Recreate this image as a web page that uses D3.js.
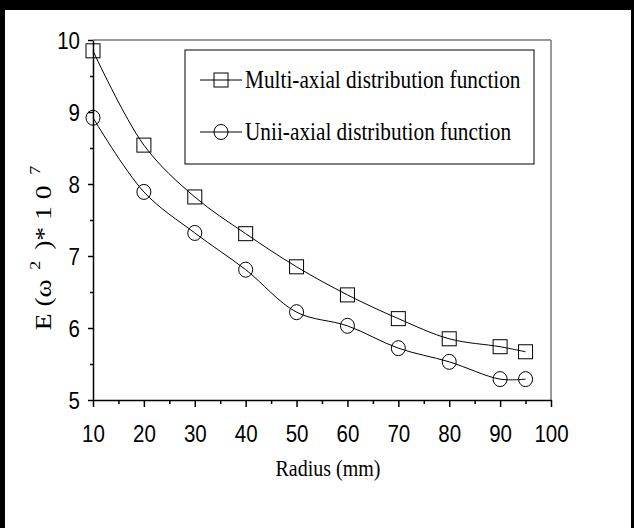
<!DOCTYPE html>
<html><head><meta charset="utf-8">
<script src="https://cdn.jsdelivr.net/npm/d3@7"></script>
<style>body{margin:0;background:#fff}svg{display:block}</style>
</head><body>
<script>
const radius = [10,20,30,40,50,60,70,80,90,95];
const multiAxial = [9.85,8.54,7.82,7.31,6.85,6.46,6.13,5.85,5.74,5.67];
const uniAxial = [8.92,7.89,7.32,6.81,6.22,6.03,5.72,5.53,5.29,5.29];
const seriesNames = ["Multi-axial distribution function","Unii-axial distribution function"];
const xTicks = [10,20,30,40,50,60,70,80,90,100];
const yTicks = [5,6,7,8,9,10];

const W=634,H=528;
const svg=d3.select("body").append("svg").attr("width",W).attr("height",H);
svg.append("rect").attr("width",W).attr("height",H).attr("fill","#000");
svg.append("rect").attr("x",5).attr("y",10).attr("width",626).attr("height",518).attr("fill","#fff");

const x=d3.scaleLinear().domain([10,100]).range([93,551]);
const y=d3.scaleLinear().domain([5,10]).range([400,40]);

// frame top/right gray
svg.append("line").attr("x1",93).attr("x2",551).attr("y1",40).attr("y2",40).attr("stroke","#777").attr("stroke-width",1.5);
svg.append("line").attr("x1",551).attr("x2",551).attr("y1",40).attr("y2",400).attr("stroke","#777").attr("stroke-width",1.5);

const font="Liberation Sans, Arial, sans-serif";
const serif="Liberation Serif, Times New Roman, serif";

// x axis
const gx=svg.append("g").attr("transform","translate(0,400)");
gx.call(d3.axisBottom(x).tickValues(xTicks).tickSize(7).tickFormat(d3.format("d")).tickSizeOuter(0));
gx.append("g").call(d3.axisBottom(x).tickValues(d3.range(15,100,10)).tickSize(4).tickFormat("")).select(".domain").remove();
gx.selectAll("text").attr("font-family",font).attr("font-size",20.5).attr("fill","#000")
  .attr("y",null).attr("dy",null).attr("transform","translate(0,42) scale(1,1.17)");
gx.selectAll("line,path").attr("stroke","#000").attr("stroke-width",1.5);

// y axis
const gy=svg.append("g").attr("transform","translate(93,0)");
gy.call(d3.axisLeft(y).tickValues(yTicks).tickSize(5).tickFormat(d3.format("d")).tickSizeOuter(0));
gy.append("g").call(d3.axisLeft(y).tickValues([5.5,6.5,7.5,8.5,9.5]).tickSize(3).tickFormat("")).select(".domain").remove();
gy.selectAll("text").attr("font-family",font).attr("font-size",20.5).attr("fill","#000")
  .attr("x",null).attr("dy",null).attr("transform","translate(-13,8.5) scale(1,1.17)");
gy.selectAll("line,path").attr("stroke","#000").attr("stroke-width",1.5);

// labels
svg.append("text").attr("transform","translate(328,476) scale(1,1.15)").attr("text-anchor","middle")
  .attr("font-family",serif).attr("font-size",20).text("Radius (mm)");
const yl=svg.append("text").attr("transform","translate(51,248) rotate(-90) scale(1.2,1)").attr("text-anchor","middle")
  .attr("font-family",serif).attr("font-size",23);
yl.append("tspan").text("E  (ω");
yl.append("tspan").attr("dy",-11).attr("font-size",15).attr("dx",8).text("2");
yl.append("tspan").attr("dy",11).attr("dx",9).text(")*  1  0");
yl.append("tspan").attr("dy",-11).attr("font-size",15).attr("dx",9).text("7");

const line=d3.line().x(d=>x(d[0])).y(d=>y(d[1])).curve(d3.curveCatmullRom.alpha(0.5));
const dataM=radius.map((r,i)=>[r,multiAxial[i]]);
const dataU=radius.map((r,i)=>[r,uniAxial[i]]);
[dataM,dataU].forEach(d=>svg.append("path").attr("d",line(d)).attr("fill","none").attr("stroke","#000").attr("stroke-width",1));

svg.selectAll(".sq").data(dataM).enter().append("rect")
  .attr("x",d=>x(d[0])-7).attr("y",d=>y(d[1])-7).attr("width",14).attr("height",14)
  .attr("fill","none").attr("stroke","#000").attr("stroke-width",1);
svg.selectAll(".ci").data(dataU).enter().append("ellipse")
  .attr("cx",d=>x(d[0])).attr("cy",d=>y(d[1])).attr("rx",7).attr("ry",7.5)
  .attr("fill","none").attr("stroke","#000").attr("stroke-width",1);

// legend
svg.append("rect").attr("x",185).attr("y",50).attr("width",349).attr("height",114).attr("fill","#fff").attr("stroke","#000").attr("stroke-width",1);
const ly=[80,132];
seriesNames.forEach((n,i)=>{
  svg.append("line").attr("x1",200).attr("x2",242).attr("y1",ly[i]).attr("y2",ly[i]).attr("stroke","#000");
  if(i===0) svg.append("rect").attr("x",214).attr("y",ly[i]-7).attr("width",14).attr("height",14).attr("fill","none").attr("stroke","#000");
  else svg.append("ellipse").attr("cx",221).attr("cy",ly[i]).attr("rx",7).attr("ry",7.5).attr("fill","none").attr("stroke","#000");
  svg.append("text").attr("transform",`translate(245,${ly[i]+8}) scale(1,1.15)`).attr("font-family",serif).attr("font-size",21.3).text(n);
});
</script>
</body></html>
